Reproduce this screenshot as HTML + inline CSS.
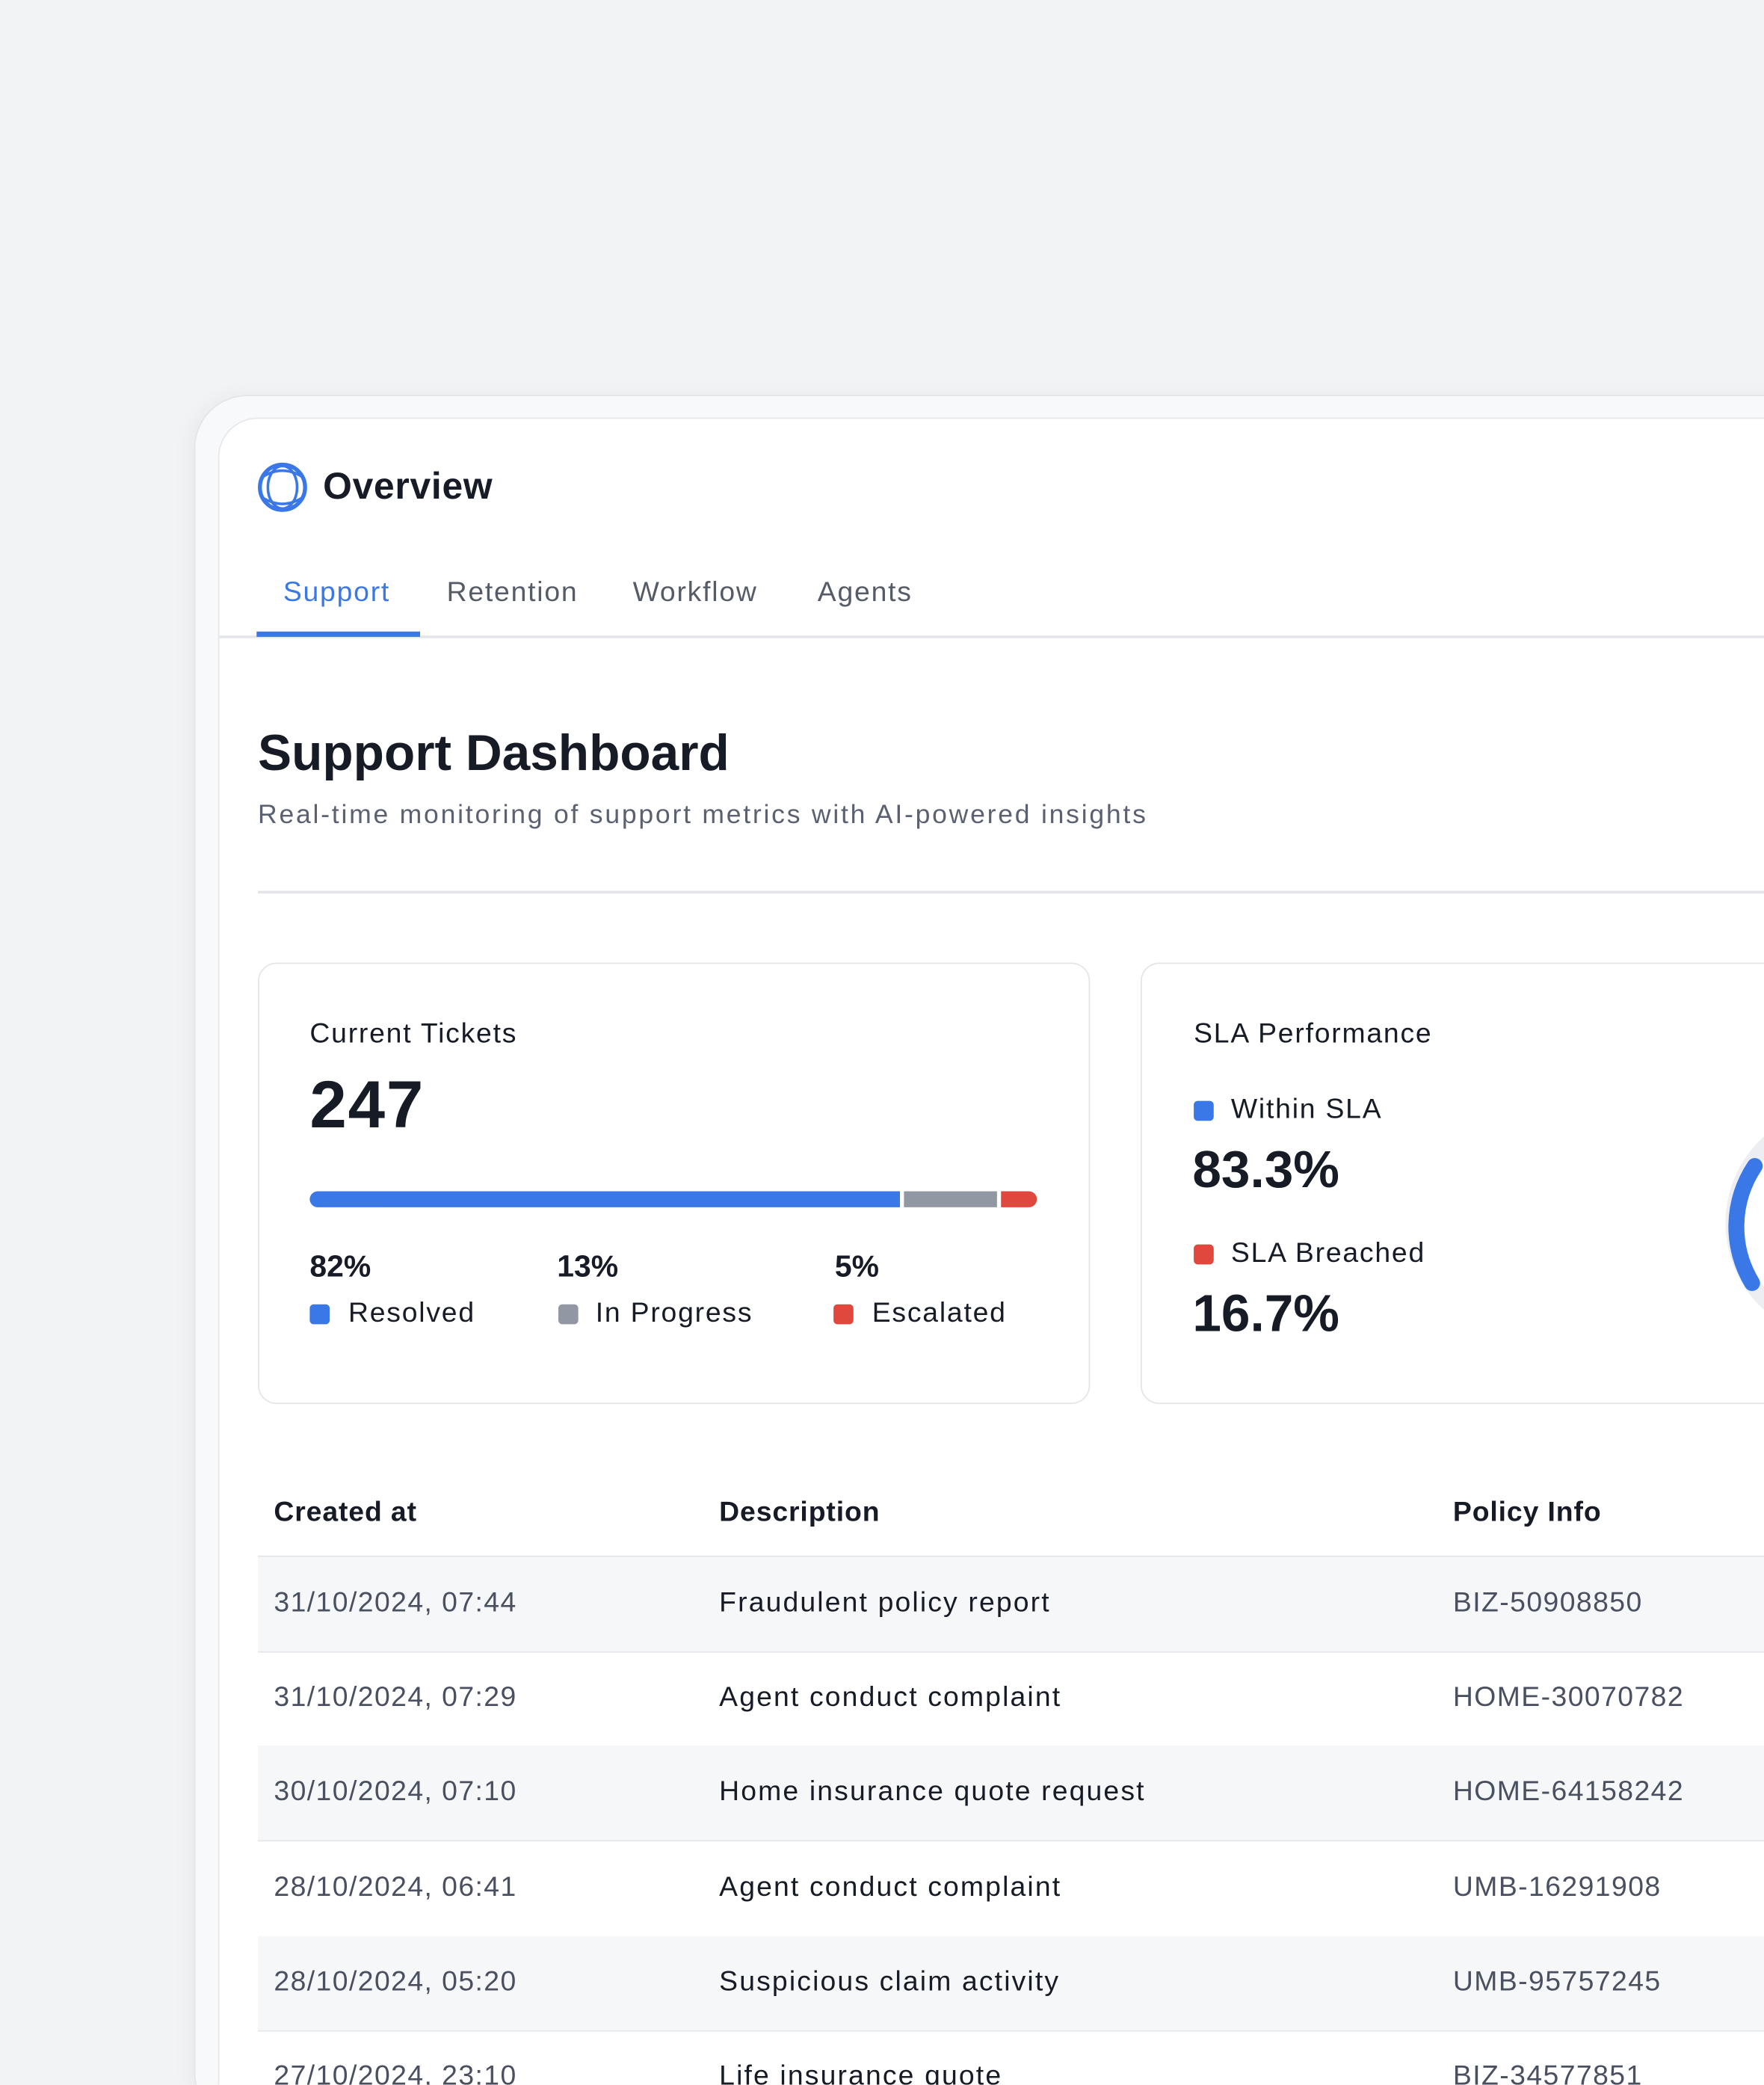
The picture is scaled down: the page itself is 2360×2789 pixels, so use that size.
<!DOCTYPE html>
<html><head><meta charset="utf-8"><style>
html,body{margin:0;padding:0;width:2360px;height:2789px;overflow:hidden;background:#f2f3f5;}
#s{position:absolute;left:0;top:0;width:1327px;height:1568px;transform:scale(1.7785);transform-origin:0 0;font-family:"Liberation Sans",sans-serif;color:#161b26;overflow:hidden;}
.a{position:absolute;white-space:nowrap;}
.outer{position:absolute;left:146px;top:297px;width:1300px;height:1300px;background:#f8f9fa;border:1.5px solid #e3e5e8;border-radius:40px;box-shadow:-4px 0 14px rgba(0,0,0,0.04);}
.inner{position:absolute;left:164px;top:314px;width:1300px;height:1300px;background:#fff;border:1.5px solid #e6e8eb;border-radius:30px;}
.card{position:absolute;top:724px;height:330px;background:#fff;border:1.5px solid #e3e5e8;border-radius:14px;}
.sq{position:absolute;width:15px;height:15px;border-radius:3px;}
.row{position:absolute;left:194px;width:1200px;height:71px;border-bottom:1.5px solid #e5e7eb;}
.g{background:#f6f7f9;}
.d{position:absolute;font-size:21px;color:#4a5060;letter-spacing:0.8px;}
.t{position:absolute;font-size:21px;color:#161b26;letter-spacing:1.2px;}
.ls{letter-spacing:1px;}
</style></head><body><div id="s">
<div class="outer"></div>
<div class="inner"></div>
<svg class="a" style="left:193px;top:347px" width="39" height="39" viewBox="0 0 39 39"><g fill="none" stroke="#3b78e7"><circle cx="19.5" cy="19.5" r="17" stroke-width="3"/><ellipse cx="19.5" cy="19.5" rx="11" ry="16" stroke-width="2"/><path d="M4 12 Q19.5 2 35 12 M4 27 Q19.5 37 35 27" stroke-width="2"/></g></svg>
<div class="a" style="left:243px;top:350px;font-size:28px;font-weight:700;letter-spacing:0.4px;">Overview</div>
<div class="a ls" style="left:213px;top:434px;font-size:21px;color:#3b78e7;">Support</div>
<div class="a ls" style="left:336px;top:434px;font-size:21px;color:#555b67;">Retention</div>
<div class="a ls" style="left:476px;top:434px;font-size:21px;color:#555b67;">Workflow</div>
<div class="a ls" style="left:615px;top:434px;font-size:21px;color:#555b67;">Agents</div>
<div class="a" style="left:165px;top:478px;width:1200px;height:1.5px;background:#e3e5e8"></div>
<div class="a" style="left:193px;top:475px;width:123px;height:4px;background:#3b78e7"></div>
<div class="a" style="left:194px;top:546px;font-size:38px;font-weight:700;">Support Dashboard</div>
<div class="a" style="left:194px;top:602px;font-size:20px;color:#5b6170;letter-spacing:1.55px;">Real-time monitoring of support metrics with AI-powered insights</div>
<div class="a" style="left:194px;top:670px;width:1200px;height:1.5px;background:#e3e5e8"></div>

<div class="card" style="left:194px;width:624px;"></div>
<div class="a ls" style="left:233px;top:766px;font-size:21px;">Current Tickets</div>
<div class="a" style="left:233px;top:802px;font-size:50px;font-weight:700;letter-spacing:1px;">247</div>
<div class="a" style="left:233px;top:896px;width:444px;height:12px;background:#3b78e7;border-radius:6px 0 0 6px"></div>
<div class="a" style="left:680px;top:896px;width:70px;height:12px;background:#9298a3"></div>
<div class="a" style="left:753px;top:896px;width:27px;height:12px;background:#e0483e;border-radius:0 6px 6px 0"></div>
<div class="a" style="left:233px;top:939px;font-size:23px;font-weight:700;">82%</div>
<div class="a" style="left:419px;top:939px;font-size:23px;font-weight:700;">13%</div>
<div class="a" style="left:628px;top:939px;font-size:23px;font-weight:700;">5%</div>
<div class="sq" style="left:233px;top:981px;background:#3b78e7"></div>
<div class="sq" style="left:420px;top:981px;background:#9298a3"></div>
<div class="sq" style="left:627px;top:981px;background:#e0483e"></div>
<div class="a ls" style="left:262px;top:976px;font-size:21px;">Resolved</div>
<div class="a ls" style="left:448px;top:976px;font-size:21px;">In Progress</div>
<div class="a ls" style="left:656px;top:976px;font-size:21px;">Escalated</div>

<div class="card" style="left:858px;width:600px;"></div>
<div class="a ls" style="left:898px;top:766px;font-size:21px;">SLA Performance</div>
<div class="sq" style="left:898px;top:828px;background:#3b78e7"></div>
<div class="a ls" style="left:926px;top:823px;font-size:21px;">Within SLA</div>
<div class="a" style="left:897px;top:859px;font-size:39px;font-weight:700;">83.3%</div>
<div class="sq" style="left:898px;top:936px;background:#e0483e"></div>
<div class="a ls" style="left:926px;top:931px;font-size:21px;">SLA Breached</div>
<div class="a" style="left:897px;top:967px;font-size:39px;font-weight:700;">16.7%</div>
<svg class="a" style="left:1296px;top:855px" width="31" height="130"><circle cx="90" cy="65" r="82" fill="none" stroke="#eceef1" stroke-width="12"/><path d="M24 22 A82 82 0 0 0 22 110" fill="none" stroke="#3b78e7" stroke-width="12" stroke-linecap="round"/></svg>

<div class="a" style="left:206px;top:1126px;font-size:21px;font-weight:700;letter-spacing:0.5px;">Created at</div>
<div class="a" style="left:541px;top:1126px;font-size:21px;font-weight:700;letter-spacing:0.5px;">Description</div>
<div class="a" style="left:1093px;top:1126px;font-size:21px;font-weight:700;letter-spacing:0.5px;">Policy Info</div>
<div class="a" style="left:194px;top:1170px;width:1200px;height:1.5px;background:#e3e5e8"></div>

<div class="row g" style="top:1171px"><div class="d" style="left:12px;top:23px">31/10/2024, 07:44</div><div class="t" style="left:347px;top:23px">Fraudulent policy report</div><div class="d" style="left:899px;top:23px">BIZ-50908850</div></div>
<div class="row" style="top:1242px"><div class="d" style="left:12px;top:23px">31/10/2024, 07:29</div><div class="t" style="left:347px;top:23px">Agent conduct complaint</div><div class="d" style="left:899px;top:23px">HOME-30070782</div></div>
<div class="row g" style="top:1313px"><div class="d" style="left:12px;top:23px">30/10/2024, 07:10</div><div class="t" style="left:347px;top:23px">Home insurance quote request</div><div class="d" style="left:899px;top:23px">HOME-64158242</div></div>
<div class="row" style="top:1385px"><div class="d" style="left:12px;top:23px">28/10/2024, 06:41</div><div class="t" style="left:347px;top:23px">Agent conduct complaint</div><div class="d" style="left:899px;top:23px">UMB-16291908</div></div>
<div class="row g" style="top:1456px"><div class="d" style="left:12px;top:23px">28/10/2024, 05:20</div><div class="t" style="left:347px;top:23px">Suspicious claim activity</div><div class="d" style="left:899px;top:23px">UMB-95757245</div></div>
<div class="row" style="top:1527px;height:41px;border-bottom:none"><div class="d" style="left:12px;top:23px">27/10/2024, 23:10</div><div class="t" style="left:347px;top:23px">Life insurance quote</div><div class="d" style="left:899px;top:23px">BIZ-34577851</div></div>
</div></body></html>
